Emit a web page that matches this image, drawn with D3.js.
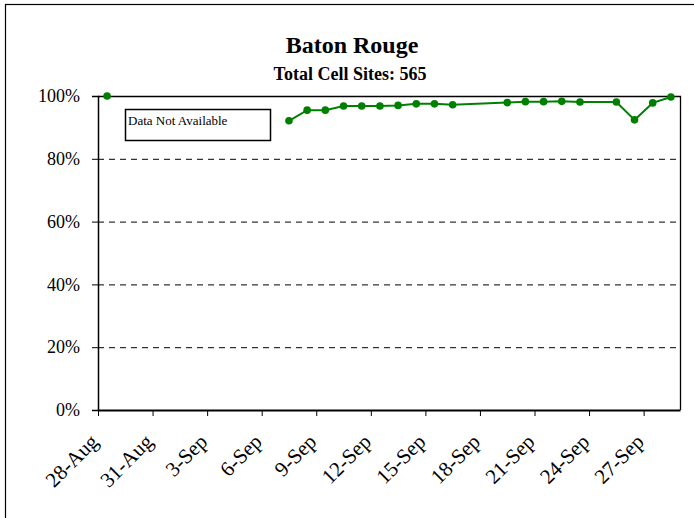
<!DOCTYPE html>
<html>
<head>
<meta charset="utf-8">
<script src="https://cdn.jsdelivr.net/npm/d3@7"></script>
<style>
  body { margin: 0; background: #fff; }
  svg { font-family: "Liberation Serif", "Times New Roman", serif; }
  .axis path, .axis line { stroke: #000; }
  .axis text { font-size: 18px; fill: #000; font-family: "Liberation Serif", serif; }
  .x-axis text { font-size: 21px; }
</style>
</head>
<body>
<svg id="chart" width="694" height="518"></svg>
<script>
var parse = d3.timeParse('%Y-%m-%d');

// daily share of cell sites up (null = no data, breaks the line)
var dates = ['2005-08-28', '2005-08-29',
  '2005-09-07', '2005-09-08', '2005-09-09', '2005-09-10', '2005-09-11',
  '2005-09-12', '2005-09-13', '2005-09-14', '2005-09-15', '2005-09-16',
  '2005-09-19', '2005-09-20', '2005-09-21', '2005-09-22', '2005-09-23',
  '2005-09-25', '2005-09-26', '2005-09-27', '2005-09-28'];
var values = [100, null,
  92.1, 95.5, 95.5, 96.8, 96.8,
  96.8, 97.0, 97.5, 97.5, 97.2,
  97.9, 98.2, 98.2, 98.3, 98.1,
  98.1, 92.4, 97.8, 99.7];

var tickDates = ['2005-08-28', '2005-08-31', '2005-09-03', '2005-09-06', '2005-09-09',
  '2005-09-12', '2005-09-15', '2005-09-18', '2005-09-21', '2005-09-24', '2005-09-27'];
var yTicks = [0, 20, 40, 60, 80, 100];
var gridTicks = [20, 40, 60, 80];

var svg = d3.select('#chart');

var plotLeft = 98, plotRight = 680, plotTop = 96, plotBottom = 410;

var data = dates.map(function(d, i) {
  return {date: d3.timeHour.offset(parse(d), 12), value: values[i]};
});

var x = d3.scaleTime()
  .domain([parse('2005-08-28'), parse('2005-09-29')])
  .range([plotLeft, plotRight]);

var y = d3.scaleLinear()
  .domain([0, 100])
  .range([plotBottom, plotTop]);

// outer chart frame (right/bottom edges fall outside the picture)
svg.append('rect')
  .attr('x', 5.5).attr('y', 4.5)
  .attr('width', 720).attr('height', 540)
  .attr('fill', 'none')
  .attr('stroke', '#000')
  .attr('stroke-width', 1.2);

// titles
svg.append('text')
  .text('Baton Rouge')
  .attr('x', 352).attr('y', 53)
  .style('text-anchor', 'middle')
  .style('font-size', '24px')
  .style('font-weight', 'bold');
svg.append('text')
  .text('Total Cell Sites: 565')
  .attr('x', 350).attr('y', 80)
  .style('text-anchor', 'middle')
  .style('font-size', '18px')
  .style('font-weight', 'bold');

// dashed gridlines
svg.append('g')
  .selectAll('line')
  .data(gridTicks)
  .enter()
  .append('line')
  .attr('x1', plotLeft).attr('x2', plotRight)
  .attr('y1', d => y(d) + 0.5).attr('y2', d => y(d) + 0.5)
  .attr('stroke', '#000')
  .attr('stroke-dasharray', '6,5');

// plot border top + right
svg.append('path')
  .attr('d', `M${plotLeft},${plotTop + 0.5}H${plotRight + 0.5}V${plotBottom}`)
  .attr('fill', 'none')
  .attr('stroke', '#000')
  .attr('stroke-width', 1.3);

var yAxis = d3.axisLeft(y)
  .tickValues(yTicks)
  .tickSize(6)
  .tickPadding(12)
  .tickFormat(d => d + '%');

svg.append('g')
  .attr('class', 'axis')
  .attr('transform', `translate(${plotLeft},0)`)
  .call(yAxis)
  .call(g => g.select('.domain').attr('stroke-width', 1.5));

var xAxis = d3.axisBottom(x)
  .tickValues(tickDates.map(parse))
  .tickSize(6)
  .tickSizeOuter(0)
  .tickFormat(d3.timeFormat('%-d-%b'));

svg.append('g')
  .attr('class', 'axis x-axis')
  .attr('transform', `translate(0,${plotBottom})`)
  .call(xAxis)
  .call(g => g.select('.domain').attr('stroke-width', 2))
  .selectAll('text')
  .style('text-anchor', 'end')
  .attr('dy', 0)
  .attr('transform', 'translate(1,33) rotate(-45)')
  .attr('x', 0).attr('y', 0);

// Data Not Available box
svg.append('rect')
  .attr('x', 125.5).attr('y', 109.5)
  .attr('width', 145).attr('height', 31)
  .attr('fill', '#fff')
  .attr('stroke', '#000')
  .attr('stroke-width', 1.5);
svg.append('text')
  .text('Data Not Available')
  .attr('x', 128).attr('y', 125)
  .style('font-size', '13px');

// series
var line = d3.line()
  .defined(d => d.value != null)
  .x(d => x(d.date))
  .y(d => y(d.value));

svg.append('path')
  .datum(data)
  .attr('d', line)
  .attr('fill', 'none')
  .attr('stroke', '#008000')
  .attr('stroke-width', 2);

svg.append('g')
  .selectAll('circle')
  .data(data.filter(d => d.value != null))
  .enter()
  .append('circle')
  .attr('cx', d => x(d.date))
  .attr('cy', d => y(d.value))
  .attr('r', 3.8)
  .attr('fill', '#008000');
</script>
</body>
</html>
